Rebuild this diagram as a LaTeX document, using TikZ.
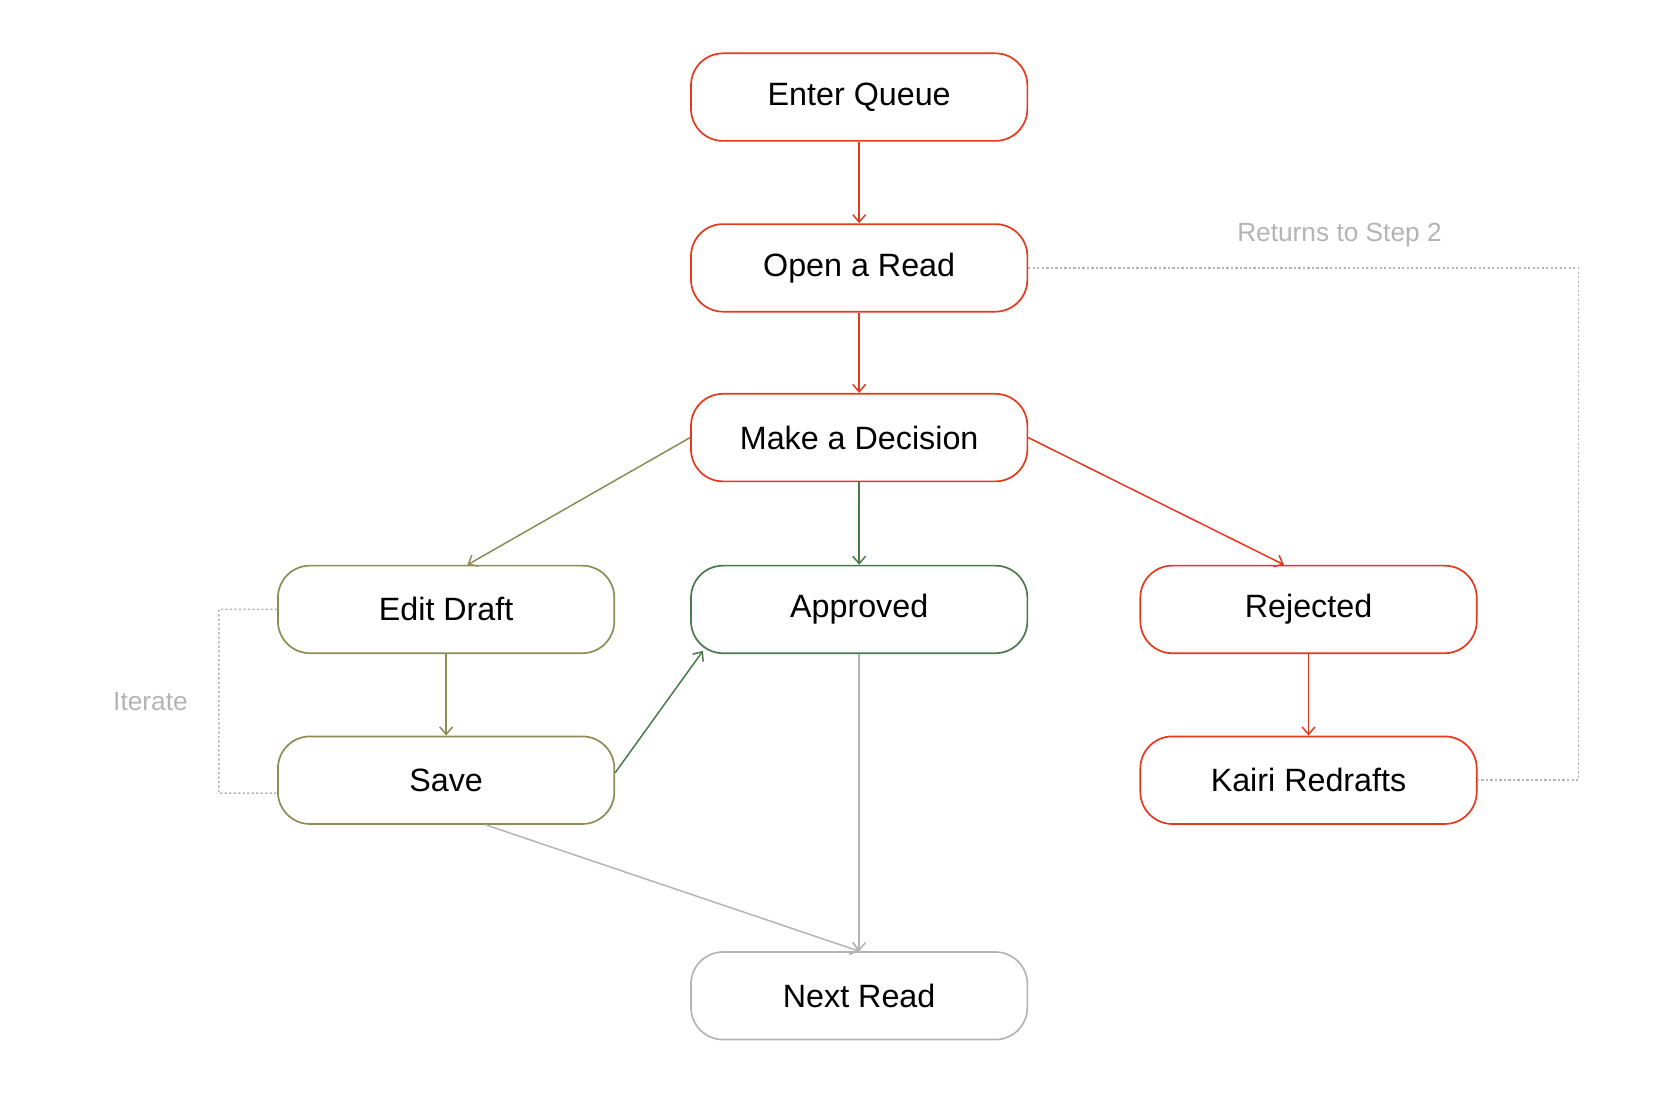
\documentclass[tikz,border=0pt]{standalone}
\usepackage{fontspec}
\setmainfont{Liberation Sans}
\usetikzlibrary{arrows.meta}
\definecolor{kred}{HTML}{E8381B}
\definecolor{kolive}{HTML}{8C8C55}
\definecolor{kgreen}{HTML}{4A7A4A}
\definecolor{kgray}{HTML}{B4B4B4}
\tikzset{
stage/.style={draw=#1, rounded corners=0.3cm, minimum width=3.15cm, minimum height=0.82cm, line width=0.45pt, font=\fontsize{8.6}{10}\selectfont, fill=white},
flow/.style={line width=0.4pt, -{Straight Barb[length=0.7mm, width=1.2mm]}},
loop/.style={kgray, dash pattern=on 0.6pt off 0.6pt, line width=0.4pt},
note/.style={text=kgray, font=\fontsize{7}{8}\selectfont}
}
\begin{document}
\begin{tikzpicture}[x=0.01cm, y=-0.01cm]
\useasboundingbox (0,0) rectangle (1560,1040);
% Define nodes
\node[stage=kred] (queue) at (805,91) {Enter Queue};
\node[stage=kred] (open) at (805,251) {Open a Read};
\node[stage=kred] (decide) at (805,410) {Make a Decision};
\node[stage=kolive] (edit) at (418,571) {Edit Draft};
\node[stage=kgreen] (approved) at (805,571) {Approved};
\node[stage=kred] (rejected) at (1226,571) {Rejected};
\node[stage=kolive] (save) at (418,731) {Save};
\node[stage=kred] (redraft) at (1226,731) {Kairi Redrafts};
\node[stage=kgray] (next) at (805,933) {Next Read};

\node[note] (returns) at (1255,220) {Returns to Step 2};
\node[note] (iterate) at (141,657) {Iterate};
\coordinate (rtop) at (1479,251);
\coordinate (rbot) at (1479,731);
\coordinate (itop) at (205,571);
\coordinate (ibot) at (205,743);

\draw[flow, kred]
(queue) -- (open);
\draw[flow, kred]
(open) -- (decide);
\draw[flow, kolive] (decide.west) -- ([xshift=0.2cm]edit.north);
\draw[flow, kgreen] (decide) -- (approved);
\draw[flow, kred] (decide.east) -- ([xshift=-0.23cm]rejected.north);
\draw[flow, kolive] (edit) -- (save);
\draw[flow, kred] (rejected) -- (redraft);
\draw[flow, kgreen] ([yshift=0.07cm]save.east) -- ([xshift=0.12cm, yshift=0.03cm]approved.south west);
\draw[flow, kgray] (approved) -- (next);
\draw[flow, kgray] ([xshift=0.37cm]save.south) -- (next.north);

\draw[loop] (open.east) -- (rtop) -- (rbot) -- (redraft.east);
\draw[loop] (edit.west) -- (itop) -- (ibot) -- ([yshift=-0.12cm]save.west);
\end{tikzpicture}
\end{document}
